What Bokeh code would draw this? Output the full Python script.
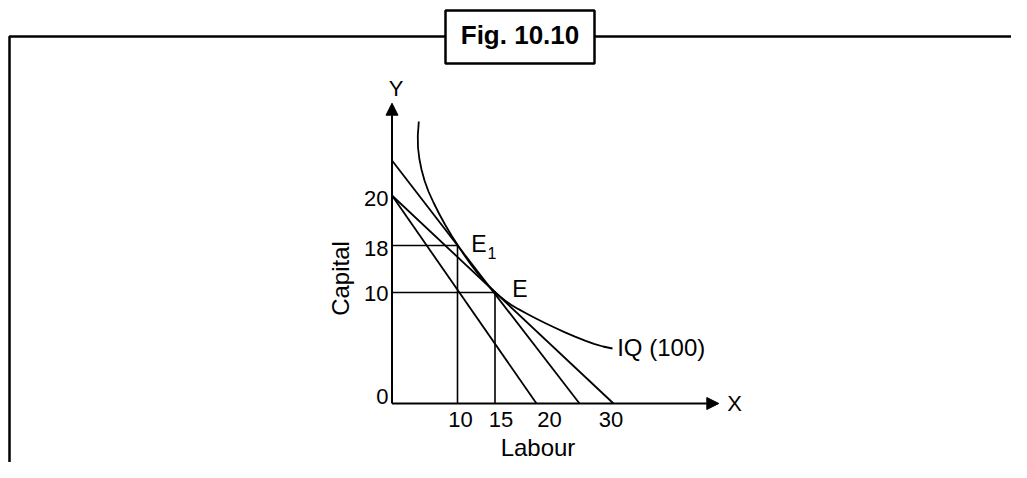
import math
from bokeh.plotting import figure
from bokeh.models import Range1d, Arrow, NormalHead
from bokeh.embed import file_html
from bokeh.resources import INLINE
from bokeh.core.properties import value

# ---- data (schematic diagram units, origin at the axes' origin) ----
y_tick_vals = [0, 111, 158, 208]
y_tick_labels = ["0", "10", "18", "20"]
x_tick_vals = [65.5, 103, 157.5, 221.5]
x_tick_labels = ["10", "15", "20", "30"]

# isocost lines: capital intercept, labour intercept
iso_y_int = [208, 243, 208]
iso_x_int = [144.5, 187.5, 221.5]

# isoquant IQ (100)
iq_x = [26.8, 25.8, 26.0, 27.3, 29.5, 32.5, 36.5, 41.5, 47.0, 53.0, 59.5, 66.0,
        72.25, 78.5, 84.75, 91.0, 97.25, 103.5, 108, 113, 119, 126, 134, 143,
        153, 163, 173, 183, 193, 202, 211, 220.5]
iq_y = [282, 268, 256, 245, 234, 223, 212, 201, 190, 179, 168, 158,
        148.5, 139.6, 131.3, 123.9, 117.1, 111, 107, 103, 98.8, 94.6, 90.2, 85.5,
        80.5, 75.7, 71.1, 66.8, 62.8, 59.6, 57, 55]

# equilibrium points (labour, capital)
E_pt = (103, 111)
E1_pt = (65.5, 158)

x_axis_end = 326.8
y_axis_end = 300.3

FONT = value("Liberation Sans")
LIFT = 0.4  # baseline correction (fraction of font size) for svg text


def lift(size):
    return LIFT * size


p = figure(width=1011, height=462,
           x_range=Range1d(-391.5, 619.5), y_range=Range1d(-59, 403),
           x_axis_type=None, y_axis_type=None,
           output_backend="svg", toolbar_location=None,
           min_border=0, min_border_left=0, min_border_right=0,
           min_border_top=0, min_border_bottom=0)
p.outline_line_color = None
p.grid.visible = False
p.background_fill_color = "white"
p.border_fill_color = "white"


def txt(x, y, t, size, align="left", bold=False, angle=0.0):
    if angle:
        xs = [xx - lift(size) for xx in x]
        ys = y
    else:
        xs = x
        ys = [yy + lift(size) for yy in y]
    p.text(x=xs, y=ys, text=t, angle=angle, text_font=FONT,
           text_font_size=f"{size}px", text_font_style="bold" if bold else "normal",
           text_align=align, text_baseline="alphabetic", text_color="black")


# ---- outer frame and title box ----
frame_top = 367
box_l, box_r, box_b, box_t = 53.5, 202.5, 340, 393
p.line([-382.5, -382.5, box_l], [-90, frame_top, frame_top], line_color="black", line_width=2.5)
p.line([box_r, 650], [frame_top, frame_top], line_color="black", line_width=2.5)
p.quad(left=[box_l], right=[box_r], bottom=[box_b], top=[box_t],
       fill_color="white", line_color="black", line_width=2.5)
txt([(box_l + box_r) / 2], [358], ["Fig. 10.10"], 26, align="center", bold=True)

# ---- axes ----
p.add_layout(Arrow(end=NormalHead(size=12, fill_color="black", line_color="black"),
                   x_start=0, y_start=0, x_end=0, y_end=y_axis_end,
                   line_color="black", line_width=2))
p.add_layout(Arrow(end=NormalHead(size=12, fill_color="black", line_color="black"),
                   x_start=0, y_start=0, x_end=x_axis_end, y_end=0,
                   line_color="black", line_width=2))

# ---- isocost lines ----
p.multi_line(xs=[[0, xi] for xi in iso_x_int], ys=[[yi, 0] for yi in iso_y_int],
             line_color="black", line_width=1.8)

# ---- guide lines to E1 and E ----
for (gx, gy) in (E1_pt, E_pt):
    p.line([0, gx, gx], [gy, gy, 0], line_color="black", line_width=1.6)

# ---- isoquant ----
p.line(iq_x, iq_y, line_color="black", line_width=1.8, line_join="round")

# ---- tick labels ----
y_label_shift = [2, 10, 12, 12]
txt([-3.5] * len(y_tick_vals), [v - s for v, s in zip(y_tick_vals, y_label_shift)],
    y_tick_labels, 22, align="right")
x_label_shift = [3, 6, 0, -2.5]
txt([v + s for v, s in zip(x_tick_vals, x_label_shift)], [-25] * len(x_tick_vals),
    x_tick_labels, 22, align="center")

# ---- axis titles ----
txt([4], [306], ["Y"], 22, align="center")
txt([342.5], [-8.7], ["X"], 22, align="center")
txt([146], [-54], ["Labour"], 24, align="center")
txt([-42], [125], ["Capital"], 24, align="center", angle=math.pi / 2)

# ---- point / curve labels ----
txt([E1_pt[0] + 13.7], [E1_pt[1] - 8], ["E"], 23)
txt([E1_pt[0] + 30], [E1_pt[1] - 14], ["1"], 16)
txt([E_pt[0] + 17.2], [E_pt[1] - 6], ["E"], 23)
txt([iq_x[-1] + 4.7], [iq_y[-1] - 9], ["IQ (100)"], 24)

open("out.html", "w").write(file_html(p, INLINE))
